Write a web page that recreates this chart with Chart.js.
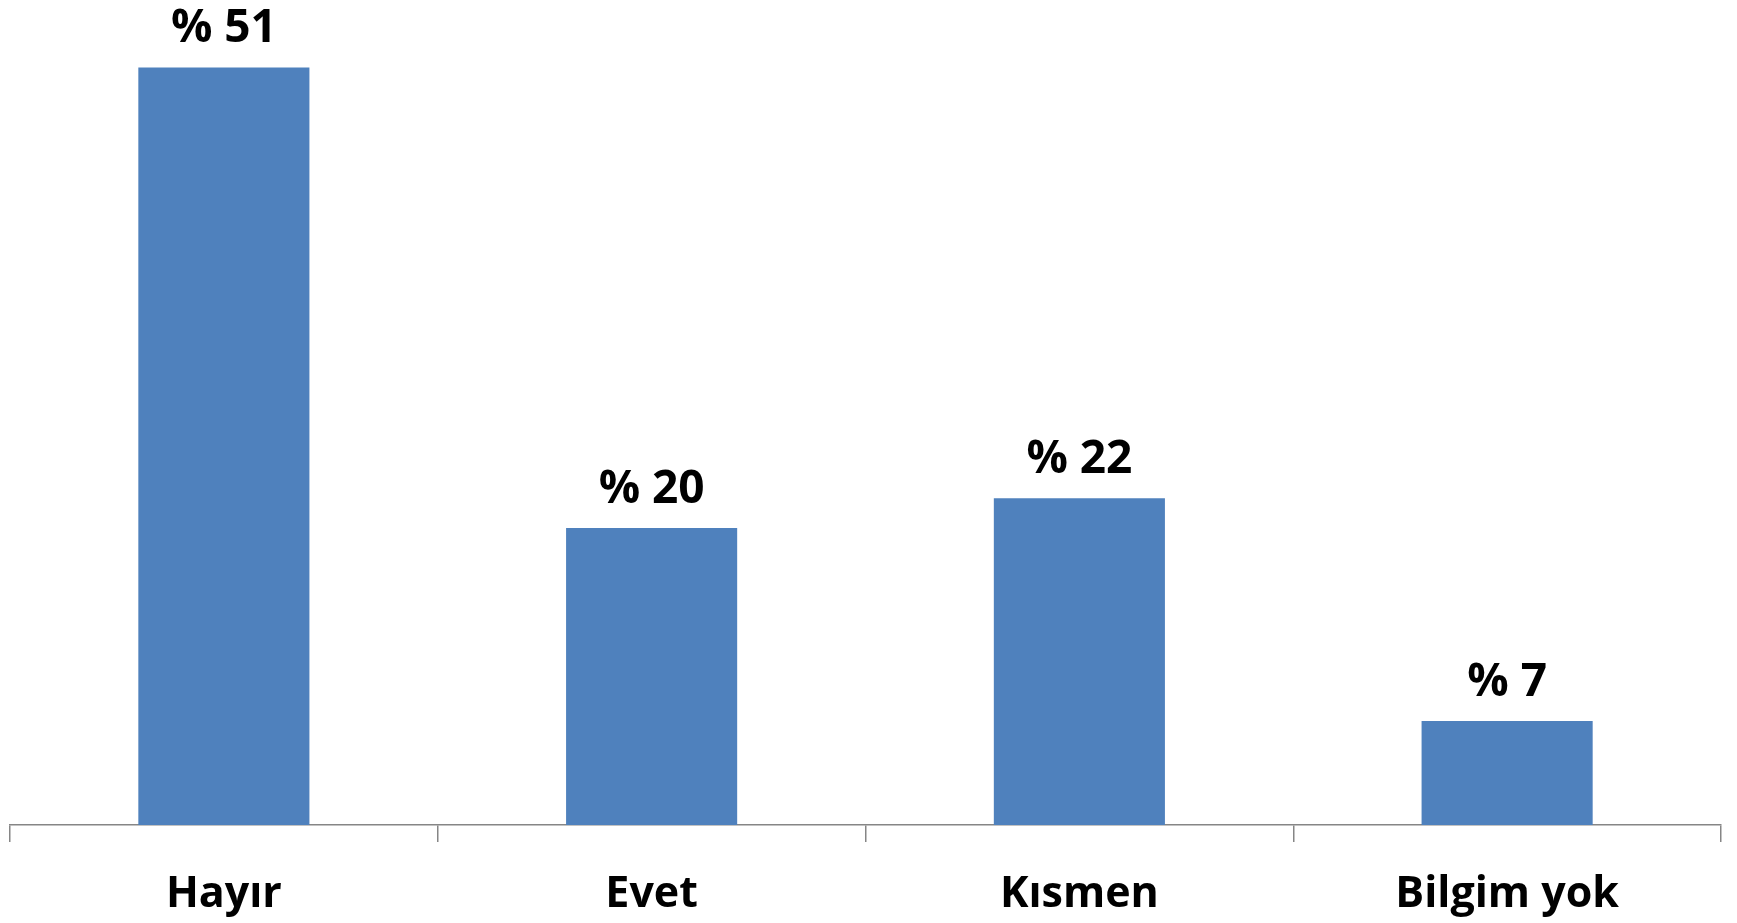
<!DOCTYPE html>
<html>
<head>
<meta charset="utf-8">
<script src="https://cdn.jsdelivr.net/npm/chart.js@4"></script>
<style>
    html, body { margin: 0; padding: 0; background: #fff; }
    #wrap { width: 1737px; height: 923px; }
</style>
</head>
<body>
<div id="wrap"><canvas id="chart"></canvas></div>
<script>
const categories = ["Hayır", "Evet", "Kısmen", "Bilgim yok"];
const values = [51, 20, 22, 7];
const valueLabels = ["% 51", "% 20", "% 22", "% 7"];

const FONT = "'Open Sans', sans-serif";

// değerleri çubukların üstüne yaz
const topLabels = {
    id: "topLabels",
    afterDatasetsDraw(chart) {
        const ctx = chart.ctx;
        const meta = chart.getDatasetMeta(0);
        ctx.save();
        ctx.font = `bold 46px ${FONT}`;
        ctx.fillStyle = "#000";
        ctx.textAlign = "center";
        ctx.textBaseline = "alphabetic";
        meta.data.forEach((bar, i) => {
            ctx.fillText(valueLabels[i], bar.x, bar.y - 25);
        });
        ctx.restore();
    }
};

new Chart(document.getElementById("chart"), {
    type: "bar",
    data: {
        labels: categories,
        datasets: [{
            data: values,
            backgroundColor: "#4F81BD",
            barPercentage: 0.4,
            categoryPercentage: 1.0
        }]
    },
    options: {
        responsive: true,
        maintainAspectRatio: false,
        animation: false,
        layout: { padding: { left: 10, right: 16, top: 8, bottom: 0 } },
        plugins: {
            legend: { display: false },
            tooltip: { enabled: false }
        },
        scales: {
            y: { display: false, min: 0, max: 55 },
            x: {
                afterFit(scale) { scale.height = 98; },
                grid: {
                    offset: true,
                    drawOnChartArea: false,
                    drawTicks: true,
                    tickLength: 17,
                    color: "#868686",
                    lineWidth: 1.5
                },
                border: { display: true, color: "#868686", width: 1.5 },
                ticks: {
                    color: "#000",
                    padding: 27,
                    font: { family: FONT, size: 43, weight: "bold" }
                }
            }
        }
    },
    plugins: [topLabels]
});
</script>
</body>
</html>
